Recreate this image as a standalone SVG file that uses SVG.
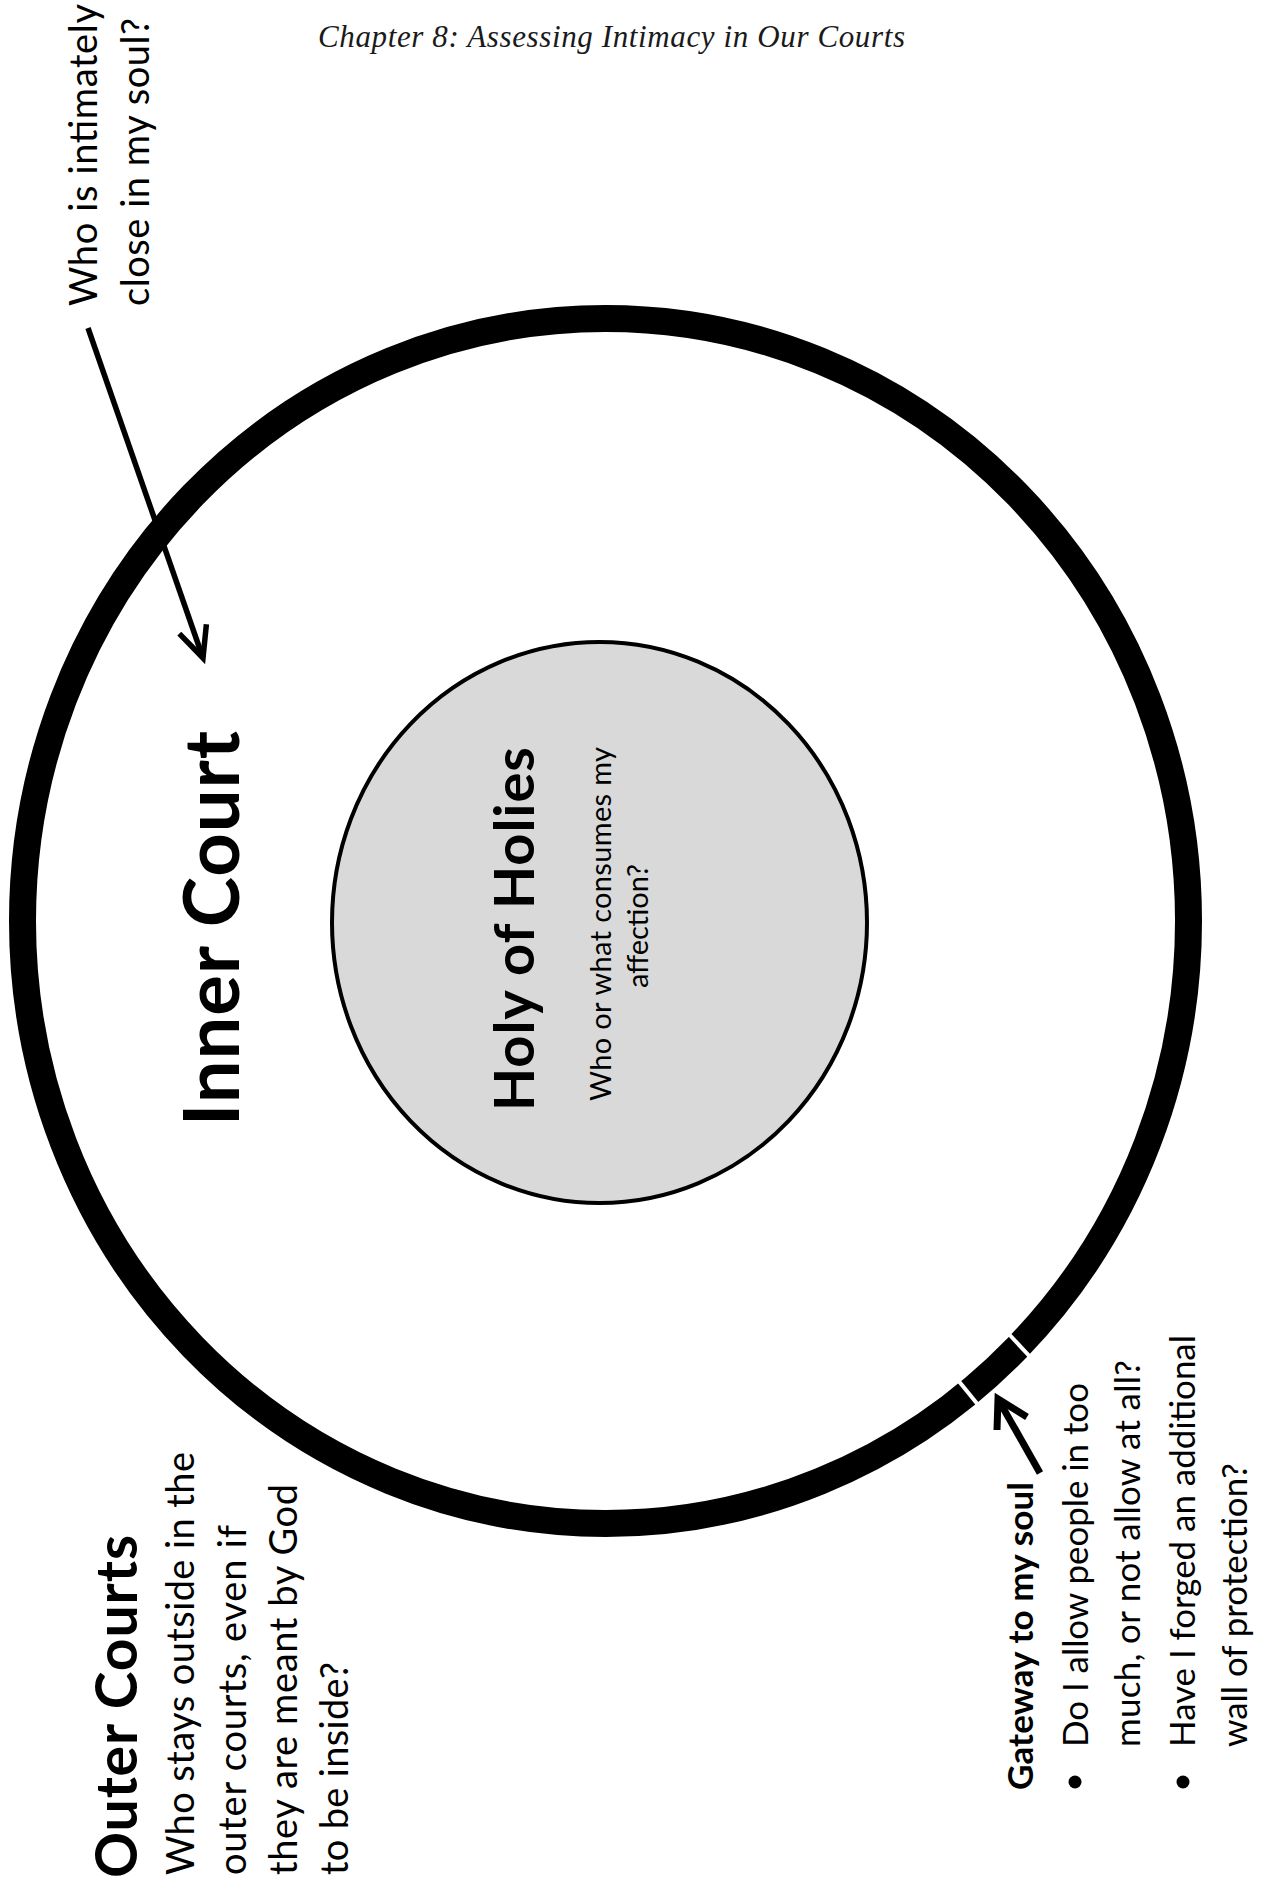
<svg xmlns="http://www.w3.org/2000/svg" width="1261" height="1885" viewBox="0 0 1261 1885">
  <style>
    .sans { font-family: Lato, "Liberation Sans", sans-serif; fill: #000; }
    .bold { font-weight: 700; }
    .title { font-family: "Liberation Serif", serif; font-style: italic; fill: #1a1a1a; }
    .arrow { fill: none; stroke: #000; stroke-linecap: butt; stroke-linejoin: miter; }
    .slit { stroke: #fff; stroke-width: 4; }
  </style>
  <rect x="0" y="0" width="1261" height="1885" fill="#fff"/>

  <g id="title">
    <text class="title" x="318" y="47" font-size="31" textLength="587">Chapter 8: Assessing Intimacy in Our Courts</text>
  </g>

  <g id="outer-court-ring">
    <ellipse cx="605.5" cy="921" rx="583" ry="602.5" fill="none" stroke="#000" stroke-width="27"/>
    <line class="slit" x1="953" y1="1374" x2="979" y2="1406"/>
    <line class="slit" x1="1006" y1="1331" x2="1034" y2="1361"/>
  </g>

  <g id="holy-of-holies">
    <ellipse cx="599.5" cy="922.5" rx="267.5" ry="280.5" fill="#d9d9d9" stroke="#000" stroke-width="4"/>
    <text class="sans bold" transform="translate(534,1111) rotate(-90)" font-size="56" textLength="364">Holy of Holies</text>
    <text class="sans" transform="translate(611,924) rotate(-90)" font-size="29" text-anchor="middle" textLength="354">Who or what consumes my</text>
    <text class="sans" transform="translate(648,926) rotate(-90)" font-size="29" text-anchor="middle" textLength="124">affection?</text>
  </g>

  <g id="inner-court">
    <text class="sans bold" transform="translate(239,1126) rotate(-90)" font-size="76" textLength="395">Inner Court</text>
  </g>

  <g id="intimate-question">
    <text class="sans" transform="translate(97,306) rotate(-90)" font-size="38" textLength="302">Who is intimately</text>
    <text class="sans" transform="translate(149,306) rotate(-90)" font-size="38" textLength="288">close in my soul?</text>
  </g>

  <g id="outer-courts">
    <text class="sans bold" transform="translate(137,1878) rotate(-90)" font-size="57" textLength="343">Outer Courts</text>
    <text class="sans" transform="translate(194,1875) rotate(-90)" font-size="38" textLength="423">Who stays outside in the</text>
    <text class="sans" transform="translate(246,1875) rotate(-90)" font-size="38" textLength="350">outer courts, even if</text>
    <text class="sans" transform="translate(297,1875) rotate(-90)" font-size="38" textLength="391">they are meant by God</text>
    <text class="sans" transform="translate(348,1875) rotate(-90)" font-size="38" textLength="213">to be inside?</text>
  </g>

  <g id="gateway">
    <text class="sans bold" transform="translate(1033,1790) rotate(-90)" font-size="35" textLength="308">Gateway to my soul</text>
    <circle cx="1075" cy="1782" r="6.5" fill="#000"/>
    <text class="sans" transform="translate(1088,1747) rotate(-90)" font-size="35" textLength="364">Do I allow people in too</text>
    <text class="sans" transform="translate(1140,1747) rotate(-90)" font-size="35" textLength="387">much, or not allow at all?</text>
    <circle cx="1183" cy="1782" r="6.5" fill="#000"/>
    <text class="sans" transform="translate(1195,1747) rotate(-90)" font-size="35" textLength="412">Have I forged an additional</text>
    <text class="sans" transform="translate(1247,1747) rotate(-90)" font-size="35" textLength="284">wall of protection?</text>
  </g>

  <g id="connectors">
    <g id="arrow-intimate">
      <path class="arrow" stroke-width="5.5" d="M88,328 L203,658"/>
      <path class="arrow" stroke-width="5.5" d="M179.3,633.6 L203,658 L206.4,624.2"/>
    </g>
    <g id="arrow-gateway">
      <path class="arrow" stroke-width="7" d="M1040,1473 L998,1399"/>
      <path class="arrow" stroke-width="7" d="M997,1430 L998,1399 L1027,1417"/>
    </g>
  </g>
</svg>
